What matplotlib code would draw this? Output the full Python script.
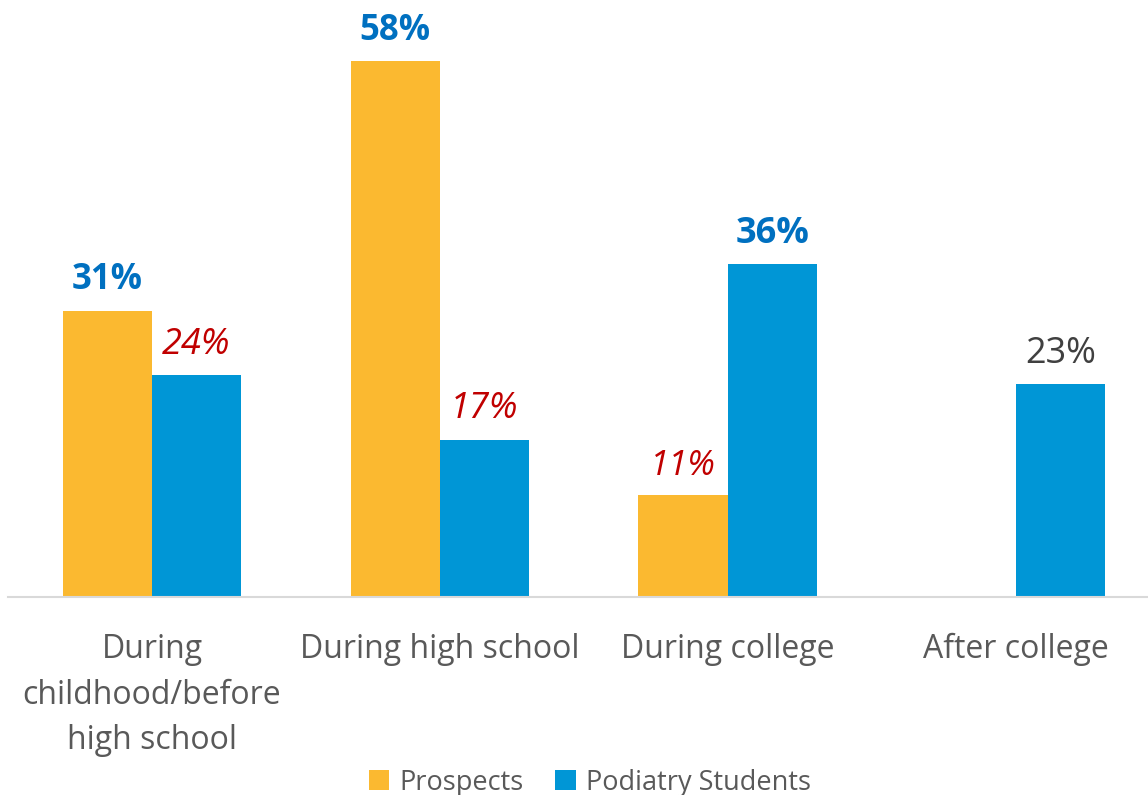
import numpy as np
import matplotlib
matplotlib.use("Agg")
import matplotlib.pyplot as plt

plt.rcParams['font.family'] = ['Open Sans', 'DejaVu Sans']

# Dados
categorias = ["During\nchildhood/before\nhigh school", "During high school",
              "During college", "After college"]
prospects = [31, 58, 11, None]
podiatry = [24, 17, 36, 23]

# estilo dos rótulos por barra (cor, peso, estilo)
estilo_prospects = [("#0070C0", "bold", "normal"), ("#0070C0", "bold", "normal"),
                    ("#C00000", "normal", "italic"), None]
estilo_podiatry = [("#C00000", "normal", "italic"), ("#C00000", "normal", "italic"),
                   ("#0070C0", "bold", "normal"), ("#404040", "normal", "normal")]

amarelo = "#FBB930"
azul = "#0096D6"

fig = plt.figure(figsize=(11.48, 7.95), dpi=100)
ax = fig.add_axes([0.007, 0.249, 0.993, 0.744])

x = np.arange(len(categorias))
w = 0.31

vp = [v if v is not None else 0 for v in prospects]
b1 = ax.bar(x - w/2, vp, w, color=amarelo, label="Prospects")
b2 = ax.bar(x + w/2, podiatry, w, color=azul, label="Podiatry Students")

for i, v in enumerate(prospects):
    if v is None:
        continue
    c, fw, fs = estilo_prospects[i]
    ax.annotate(f"{v}%", (x[i] - w/2, v), xytext=(0, 9), textcoords="offset points",
                ha="center", va="bottom", fontsize=25, color=c, fontweight=fw, fontstyle=fs)
for i, v in enumerate(podiatry):
    c, fw, fs = estilo_podiatry[i]
    ax.annotate(f"{v}%", (x[i] + w/2, v), xytext=(0, 9), textcoords="offset points",
                ha="center", va="bottom", fontsize=26, color=c, fontweight=fw, fontstyle=fs)

ax.set_xlim(-0.5, 3.46)
ax.set_ylim(0, 64)
ax.set_xticks(x)
ax.set_xticklabels(categorias, fontsize=23, color="#595959", linespacing=1.5)
ax.tick_params(axis="x", length=0, pad=26)
ax.set_yticks([])
for s in ["top", "right", "left"]:
    ax.spines[s].set_visible(False)
ax.spines["bottom"].set_color("#D9D9D9")
ax.spines["bottom"].set_linewidth(1.5)

fig.legend(loc="lower center", bbox_to_anchor=(0.514, -0.033), ncol=2, frameon=False,
           fontsize=19.5, labelcolor="#595959", handlelength=0.75, handleheight=0.75,
           handletextpad=0.4, columnspacing=1.15)

fig.savefig("out.png", dpi=100)
